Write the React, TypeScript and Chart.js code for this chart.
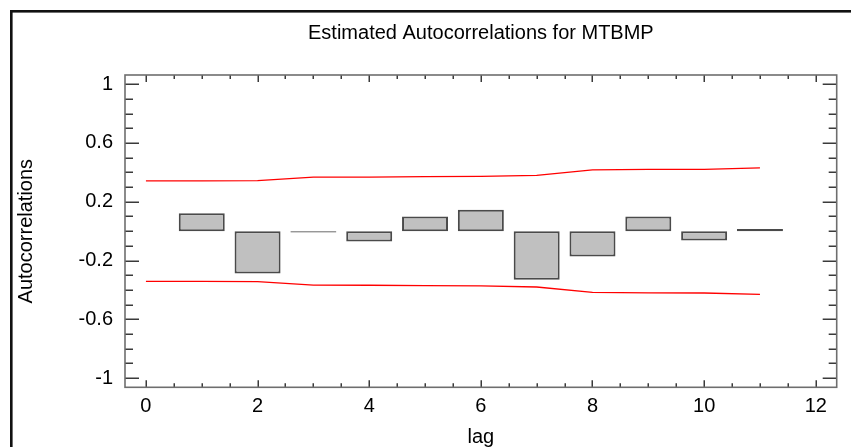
import { useEffect, useRef } from "react";
import { Chart, registerables } from "chart.js";

Chart.register(...registerables);

const TITLE = "Estimated Autocorrelations for MTBMP";
const X_TITLE = "lag";
const Y_TITLE = "Autocorrelations";

const LAGS = [1, 2, 3, 4, 5, 6, 7, 8, 9, 10, 11];
const ACF = [0.122, -0.288, -0.01, -0.07, 0.1, 0.145, -0.33, -0.173, 0.1, -0.063, 0.014];

const LIMIT_LAGS = [0, 1, 2, 3, 4, 5, 6, 7, 8, 9, 10, 11];
const UPPER_LIMIT = [0.342, 0.342, 0.344, 0.367, 0.368, 0.371, 0.373, 0.38, 0.417, 0.42, 0.421, 0.43];
const LOWER_LIMIT = [-0.342, -0.342, -0.344, -0.367, -0.368, -0.371, -0.373, -0.38, -0.417, -0.42, -0.421, -0.43];

const X_TICKS = [0, 2, 4, 6, 8, 10, 12];
const Y_TICKS = [-1, -0.6, -0.2, 0.2, 0.6, 1];
const X_MIN = -0.375;
const X_MAX = 12.375;
const Y_MIN = -1.0625;
const Y_MAX = 1.0625;

const FAMILY = "'Liberation Sans', Arial, sans-serif";

const framePlugin = {
  id: "frame",
  beforeDraw(chart: any) {
    const ctx = chart.ctx;
    ctx.save();
    ctx.fillStyle = "#ffffff";
    ctx.fillRect(0, 0, chart.width, chart.height);
    ctx.fillStyle = "#111111";
    ctx.fillRect(10, 10, chart.width - 10, 2.6);
    ctx.fillRect(10, 10, 2.6, chart.height - 10);
    ctx.restore();
  },
  afterDraw(chart: any) {
    const { ctx, chartArea, scales } = chart;
    const { left, right, top, bottom } = chartArea;
    const x = scales.x;
    const y = scales.y;
    ctx.save();
    ctx.strokeStyle = "#3a3a3a";
    ctx.lineWidth = 1.5;
    ctx.beginPath();
    for (let i = -10; i <= 10; i++) {
      const v = i / 10;
      const py = Math.round(y.getPixelForValue(v)) + 0.25;
      const major = Y_TICKS.some((t) => Math.abs(t - v) < 1e-9);
      const len = major ? 14 : 8;
      ctx.moveTo(left, py);
      ctx.lineTo(left + len, py);
      ctx.moveTo(right, py);
      ctx.lineTo(right - len, py);
    }
    for (let i = 0; i <= 24; i++) {
      const v = i / 2;
      const px = Math.round(x.getPixelForValue(v)) + 0.25;
      const major = X_TICKS.some((t) => Math.abs(t - v) < 1e-9);
      const len = major ? 7 : 4;
      ctx.moveTo(px, bottom);
      ctx.lineTo(px, bottom - len);
      ctx.moveTo(px, top);
      ctx.lineTo(px, top + len);
    }
    ctx.stroke();
    ctx.strokeStyle = "#6e6e6e";
    ctx.lineWidth = 1.6;
    ctx.strokeRect(left, top, right - left, bottom - top);
    ctx.restore();
  },
};

export default function App() {
  const ref = useRef<HTMLCanvasElement | null>(null);

  useEffect(() => {
    document.body.style.margin = "0";
    const canvas = ref.current;
    if (!canvas) return;
    const tickFont = { family: FAMILY, size: 20, weight: "normal" as const };
    const chart = new Chart(canvas, {
      type: "bar",
      data: {
        datasets: [
          {
            type: "bar",
            data: LAGS.map((l, i) => ({ x: l, y: ACF[i] })),
            backgroundColor: "#c0c0c0",
            borderColor: "#4a4a4a",
            borderWidth: 2,
            borderSkipped: false,
            categoryPercentage: 1,
            barPercentage: 0.824,
            order: 2,
          } as any,
          {
            type: "line",
            data: LIMIT_LAGS.map((l, i) => ({ x: l, y: UPPER_LIMIT[i] })),
            borderColor: "#ff0000",
            borderWidth: 1.3,
            pointRadius: 0,
            fill: false,
            tension: 0,
            order: 1,
          } as any,
          {
            type: "line",
            data: LIMIT_LAGS.map((l, i) => ({ x: l, y: LOWER_LIMIT[i] })),
            borderColor: "#ff0000",
            borderWidth: 1.3,
            pointRadius: 0,
            fill: false,
            tension: 0,
            order: 1,
          } as any,
        ],
      },
      options: {
        animation: false,
        responsive: false,
        events: [],
        layout: { padding: { top: 0, left: 0, right: 14.3, bottom: 0 } },
        plugins: {
          legend: { display: false },
          tooltip: { enabled: false },
          title: {
            display: true,
            text: TITLE,
            fullSize: false,
            color: "#000000",
            font: { family: FAMILY, size: 20, weight: "normal" },
            padding: { top: 21, bottom: 30 },
          },
        },
        scales: {
          x: {
            type: "linear",
            min: X_MIN,
            max: X_MAX,
            offset: false,
            grid: { display: false, drawTicks: false },
            border: { display: false },
            afterBuildTicks: (s: any) => {
              s.ticks = X_TICKS.map((v) => ({ value: v }));
            },
            afterFit: (s: any) => {
              s.height = 59.7;
            },
            ticks: {
              color: "#000000",
              font: tickFont,
              padding: 7,
              maxRotation: 0,
              autoSkip: false,
              callback: (v: any) => String(v),
            },
            title: {
              display: true,
              text: X_TITLE,
              color: "#000000",
              font: { family: FAMILY, size: 20, weight: "normal", lineHeight: 1 },
              padding: 0,
            },
          },
          y: {
            type: "linear",
            min: Y_MIN,
            max: Y_MAX,
            grid: { display: false, drawTicks: false },
            border: { display: false },
            afterBuildTicks: (s: any) => {
              s.ticks = Y_TICKS.map((v) => ({ value: v }));
            },
            afterFit: (s: any) => {
              s.width = 125;
            },
            ticks: {
              color: "#000000",
              font: tickFont,
              padding: 12,
              autoSkip: false,
              callback: (v: any) => String(Math.round(Number(v) * 10) / 10),
            },
            title: {
              display: true,
              text: Y_TITLE,
              color: "#000000",
              font: { family: FAMILY, size: 20, weight: "normal" },
              padding: { top: 14, bottom: 0 },
            },
          },
        },
      } as any,
      plugins: [framePlugin],
    });
    return () => chart.destroy();
  }, []);

  return (
    <canvas
      ref={ref}
      width={851}
      height={447}
      style={{ display: "block", width: 851, height: 447 }}
    />
  );
}
